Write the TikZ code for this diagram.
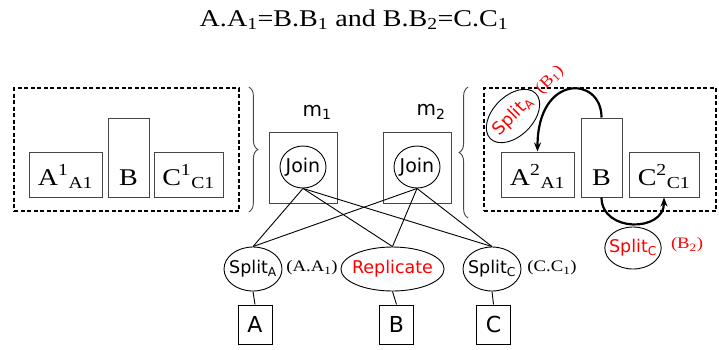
\documentclass[tikz,border=0pt]{standalone}
\usepackage{fontspec}
\setmainfont[FakeStretch=1.17]{Liberation Serif}
\setsansfont{DejaVu Sans}
\usepackage{xcolor}
\usetikzlibrary{arrows.meta,positioning,shapes.geometric,decorations.pathreplacing}
\definecolor{edgegray}{RGB}{70,70,70}
\definecolor{opred}{RGB}{255,0,0}

\begin{document}
\begin{tikzpicture}[
  x=1pt, y=-1pt,
  every node/.style={inner sep=0pt},
  serif/.style={font=\fontsize{24}{28}\selectfont},
  small serif/.style={font=\fontsize{16}{19}\selectfont},
  cell/.style={draw=edgegray, line width=1pt, serif, text height=33pt, text depth=12pt, minimum height=45pt},
  tallcell/.style={cell, text height=67pt, minimum height=79pt},
  group/.style={draw, line width=1.8pt, dash pattern=on 4pt off 2.5pt},
  mbox/.style={draw=edgegray, line width=1pt, minimum width=68pt, minimum height=71pt},
  op/.style={draw, ellipse, line width=0.9pt, font=\sffamily\fontsize{17.5}{20}\selectfont, inner xsep=-4pt, inner ysep=1pt, minimum height=44pt},
  leaf/.style={draw, line width=1pt, font=\sffamily\fontsize{22}{26}\selectfont, minimum width=34pt, minimum height=39pt},
  wire/.style={line width=0.9pt},
  flow/.style={-{Stealth[length=9pt, width=7pt]}, line width=2.2pt},
  curly/.style={decorate, decoration={brace, amplitude=9pt}, line width=0.9pt, draw=edgegray}
]
  \useasboundingbox (0,0) rectangle (719,349);

  % Join condition on top
  \node[serif, anchor=base] (cond) at (354,26) {A.A\textsubscript{1}=B.B\textsubscript{1} and B.B\textsubscript{2}=C.C\textsubscript{1}};

  % Left group (m1 side)
  \node[group, minimum width=225pt, minimum height=123pt] (leftgrp) at (126.5,149.5) {};
  \node[cell, minimum width=73pt] (a1) at (65.5,174.5) {A\textsuperscript{1}\textsubscript{A1}};
  \node[tallcell, minimum width=41pt] (b1) at (128.5,157.5) {B};
  \node[cell, minimum width=69pt] (c1) at (188.5,174.5) {C\textsuperscript{1}\textsubscript{C1}};

  % Right group (m2 side)
  \node[group, minimum width=232pt, minimum height=123pt] (rightgrp) at (600,149.5) {};
  \node[cell, minimum width=73pt] (a2) at (537.5,174.5) {A\textsuperscript{2}\textsubscript{A1}};
  \node[tallcell, minimum width=41pt] (b2) at (601.5,157.5) {B};
  \node[cell, minimum width=70pt] (c2) at (664,174.5) {C\textsuperscript{2}\textsubscript{C1}};

  % Braces
  \draw[curly] ([xshift=9pt]leftgrp.north east) -- ([xshift=9pt]leftgrp.south east);
  \draw[curly] ([xshift=-15pt,yshift=-6pt]rightgrp.south west) -- ([xshift=-15pt]rightgrp.north west);

  % Machines with join operators
  \node[mbox] (m1) at (303,167.5) {};
  \node[mbox] (m2) at (417,167.5) {};
  \node[font=\sffamily\fontsize{20}{24}\selectfont] (m1lbl) at (317,112) {m\textsubscript{1}};
  \node[font=\sffamily\fontsize{20}{24}\selectfont] (m2lbl) at (431,112) {m\textsubscript{2}};
  \node[op, font=\sffamily\fontsize{19}{22}\selectfont, minimum width=46pt, minimum height=42pt] (join1) at (303,167) {Join};
  \node[op, font=\sffamily\fontsize{19}{22}\selectfont, minimum width=46pt, minimum height=42pt] (join2) at (417,167) {Join};

  % Split / replicate operators
  \node[op, minimum width=58pt] (splitA) at (253,269) {Split\textsubscript{A}};
  \node[op, minimum width=97pt, text=opred] (replicate) at (392.5,269) {Replicate};
  \node[op, minimum width=58pt] (splitC) at (492,269) {Split\textsubscript{C}};
  \node[small serif] (splitAlbl) at (312,268) {(A.A\textsubscript{1})};
  \node[small serif] (splitClbl) at (552,268) {(C.C\textsubscript{1})};

  % Base relations
  \node[leaf] (relA) at (255,324.5) {A};
  \node[leaf] (relB) at (396.5,324.5) {B};
  \node[leaf] (relC) at (493.5,324.5) {C};

  \foreach \j in {join1,join2}
    \foreach \s in {splitA,replicate,splitC}
      \draw[wire] (\j.south) -- (\s.north);
  \draw[wire] (splitA.south) -- (relA.north);
  \draw[wire] (replicate.south) -- (relB.north);
  \draw[wire] (splitC.south) -- (relC.north);

  % B is split again inside m2
  \node[op, rotate=45, text=opred, minimum width=64pt, minimum height=40pt] (splitAB) at (513,116) {Split\textsubscript{A}};
  \node[small serif, rotate=45, text=opred] (b1lbl) at (550,80) {(B\textsubscript{1})};
  \node[op, text=opred, minimum width=52pt, minimum height=42pt] (splitCB) at (633,248) {Split\textsubscript{C}};
  \node[small serif, text=opred] (b2lbl) at (687,245) {(B\textsubscript{2})};

  \draw[flow] (b2.north) .. controls +(0,-42) and +(0,-78) .. (a2.north);
  \draw[flow] (b2.south) .. controls +(0,35) and +(0,35) .. (c2.south);

\end{tikzpicture}
\end{document}
